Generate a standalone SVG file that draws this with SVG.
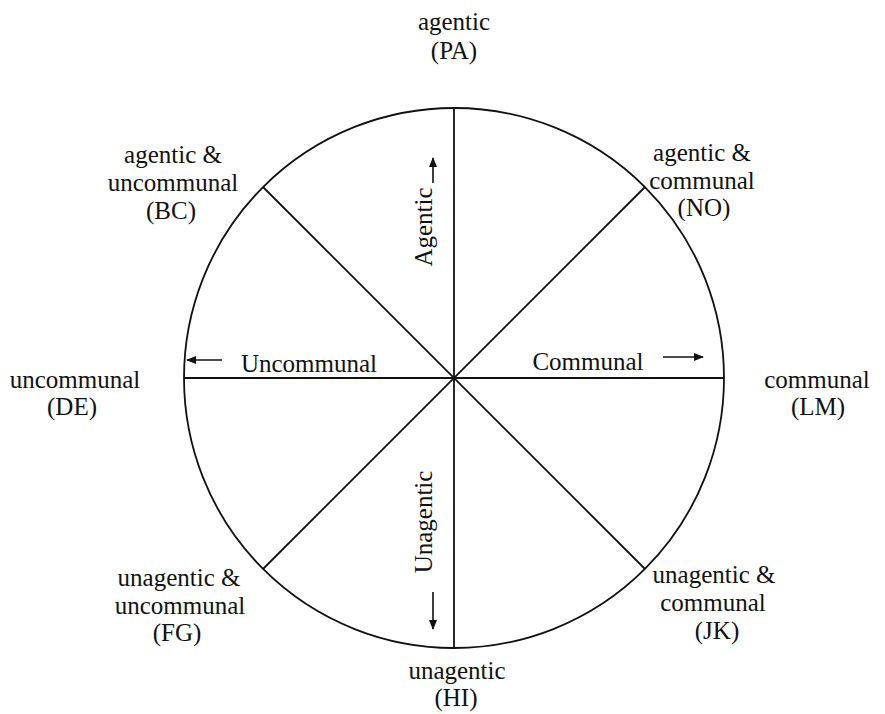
<svg xmlns="http://www.w3.org/2000/svg" width="885" height="714" viewBox="0 0 885 714">
<style>
text{font-family:"Liberation Serif","Times New Roman",serif;font-size:25px;fill:#111;text-anchor:middle}
.ln{stroke:#111;stroke-width:1.8;fill:none}
.ar{stroke:#111;stroke-width:1.6;fill:none}
</style>
<defs>
<marker id="ah" viewBox="0 0 10 8" refX="9" refY="4" markerWidth="11" markerHeight="8" markerUnits="userSpaceOnUse" orient="auto">
<path d="M0,0 L10,4 L0,8 Z" fill="#111"/>
</marker>
</defs>
<rect width="885" height="714" fill="#fff"/>
<g id="wheel">
<circle class="ln" cx="454" cy="378" r="270"/>
</g>
<g id="connectors">
<line class="ln" x1="454" y1="108" x2="454" y2="648"/>
<line class="ln" x1="184" y1="378" x2="724" y2="378"/>
<line class="ln" x1="263" y1="187" x2="645" y2="569"/>
<line class="ln" x1="645" y1="187" x2="263" y2="569"/>
<line class="ar" x1="222" y1="360" x2="187" y2="360" marker-end="url(#ah)"/>
<line class="ar" x1="663" y1="357" x2="703" y2="357" marker-end="url(#ah)"/>
<line class="ar" x1="433" y1="183" x2="433" y2="158" marker-end="url(#ah)"/>
<line class="ar" x1="433" y1="592" x2="433" y2="629" marker-end="url(#ah)"/>
</g>
<g id="axis-labels">
<text x="309" y="372">Uncommunal</text>
<text x="588" y="370">Communal</text>
<text transform="translate(432,227) rotate(-90)">Agentic</text>
<text transform="translate(432,522) rotate(-90)">Unagentic</text>
</g>
<g id="node-PA"><text x="454" y="30">agentic</text><text x="454" y="59">(PA)</text></g>
<g id="node-BC"><text x="173" y="163">agentic &amp;</text><text x="173" y="191">uncommunal</text><text x="171" y="219">(BC)</text></g>
<g id="node-NO"><text x="702" y="161">agentic &amp;</text><text x="702" y="189">communal</text><text x="704" y="216">(NO)</text></g>
<g id="node-DE"><text x="75" y="388">uncommunal</text><text x="72" y="415">(DE)</text></g>
<g id="node-LM"><text x="817" y="388">communal</text><text x="818" y="415">(LM)</text></g>
<g id="node-FG"><text x="179" y="586">unagentic &amp;</text><text x="180" y="614">uncommunal</text><text x="177" y="641">(FG)</text></g>
<g id="node-JK"><text x="714" y="583">unagentic &amp;</text><text x="713" y="611">communal</text><text x="717" y="639">(JK)</text></g>
<g id="node-HI"><text x="457" y="679">unagentic</text><text x="456" y="706">(HI)</text></g>
</svg>
